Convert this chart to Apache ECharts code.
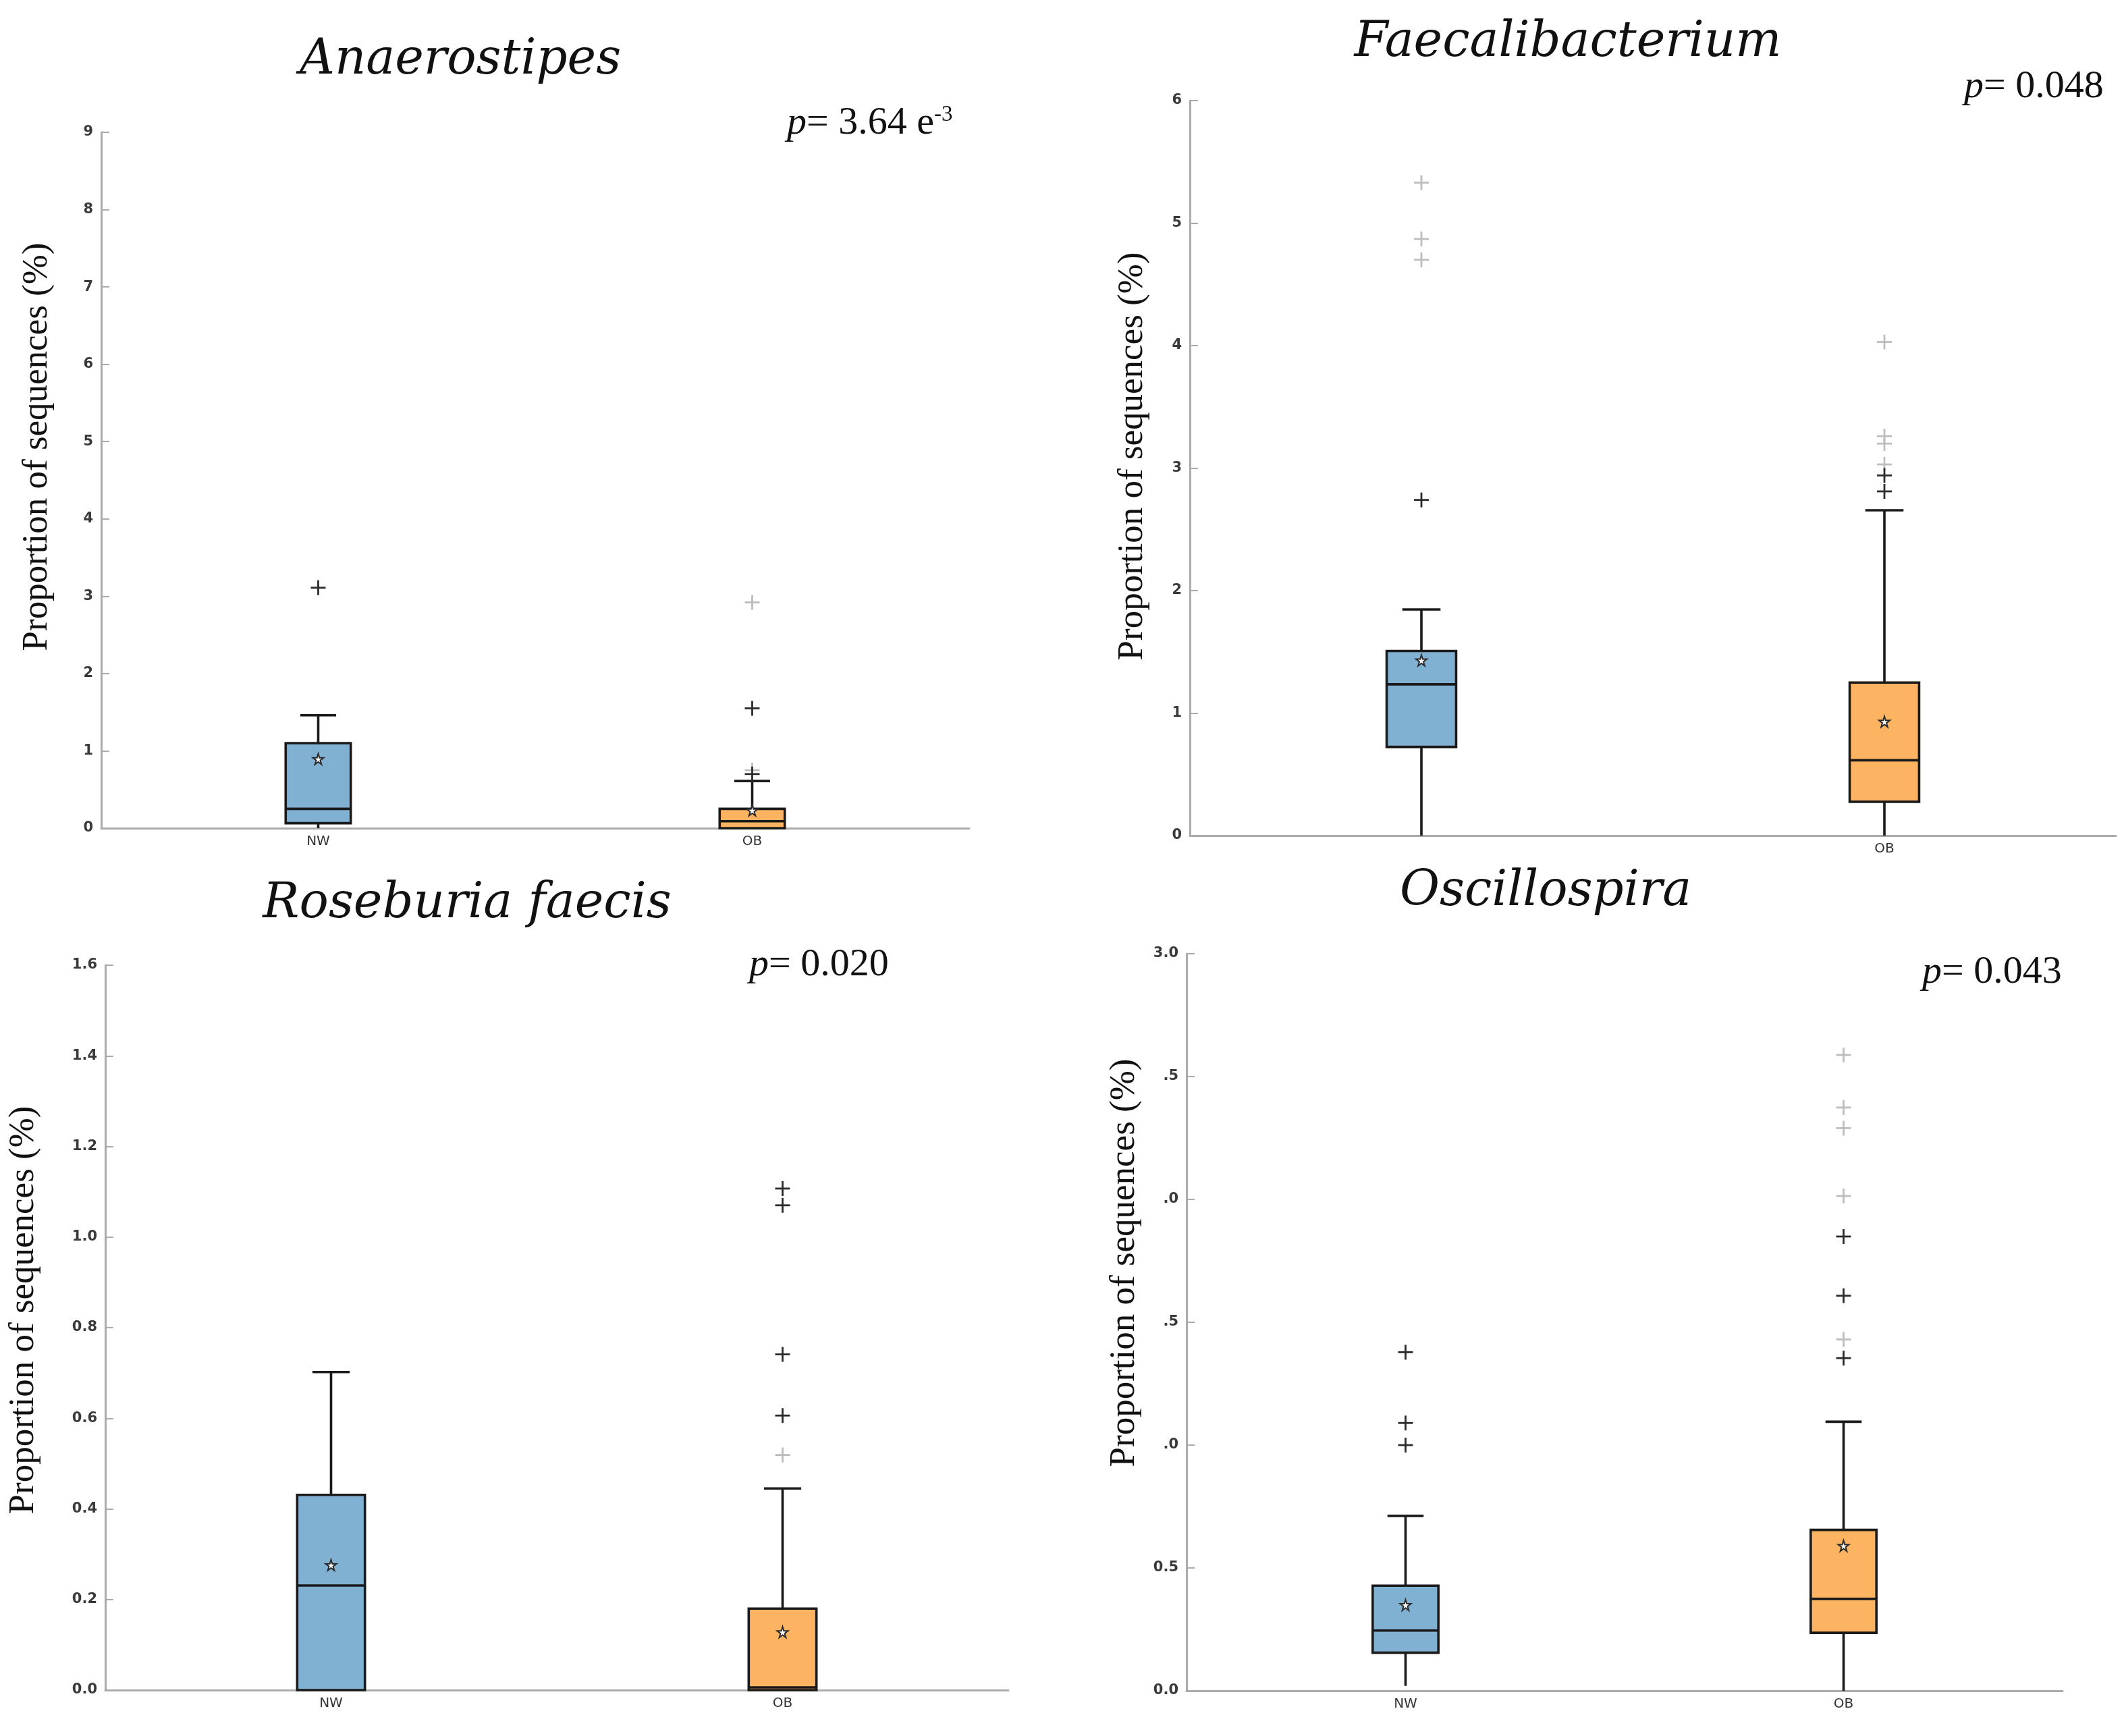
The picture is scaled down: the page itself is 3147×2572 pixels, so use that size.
<!doctype html>
<html>
<head>
    <meta charset="utf-8">
    <title>Boxplots</title>
    <script type="text/javascript" src="https://cdn.jsdelivr.net/npm/echarts@6/dist/echarts.min.js"></script>
    <style>
        html, body {margin: 0; padding: 0; background: #fff;}
        #container {width: 3147px; height: 2572px;}
    </style>
</head>
<body>
<div id="container"></div>
<script type="text/javascript">

    var groups = ['NW', 'OB'];

    /* [组, 下须, Q1, 中位数, Q3, 上须] */
    var anaeroBox = [[0, 0.0, 0.064, 0.25, 1.10, 1.46], [1, 0.0, 0.0, 0.09, 0.25, 0.61]];
    var anaeroMean = [[0, 0.895], [1, 0.23]];
    var anaeroOut = [[0, 3.11], [1, 1.55], [1, 0.70]];
    var anaeroOutFaint = [[1, 2.92], [1, 0.75]];
    var anaeroTicks = ['0', '1', '2', '3', '4', '5', '6', '7', '8', '9'];

    var faecaliBox = [[0, 0.0, 0.724, 1.235, 1.507, 1.846], [1, 0.0, 0.276, 0.615, 1.249, 2.656]];
    var faecaliMean = [[0, 1.43], [1, 0.93]];
    var faecaliOut = [[0, 2.74], [1, 2.94], [1, 2.81]];
    var faecaliOutFaint = [[0, 4.70], [0, 4.87], [0, 5.33], [1, 4.03], [1, 3.26], [1, 3.20], [1, 3.03]];
    var faecaliTicks = ['0', '1', '2', '3', '4', '5', '6'];

    var rosebBox = [[0, 0.0, 0.0, 0.231, 0.431, 0.702], [1, 0.0, 0.0, 0.006, 0.180, 0.445]];
    var rosebMean = [[0, 0.276], [1, 0.128]];
    var rosebOut = [[1, 1.107], [1, 1.070], [1, 0.741], [1, 0.606]];
    var rosebOutFaint = [[1, 0.519]];
    var rosebTicks = ['0.0', '0.2', '0.4', '0.6', '0.8', '1.0', '1.2', '1.4', '1.6'];

    var oscilloBox = [[0, 0.02, 0.155, 0.245, 0.428, 0.712], [1, 0.0, 0.236, 0.374, 0.655, 1.095]];
    var oscilloMean = [[0, 0.349], [1, 0.59]];
    var oscilloOut = [[0, 1.378], [0, 1.09], [0, 1.0], [1, 1.849], [1, 1.608], [1, 1.354]];
    var oscilloOutFaint = [[1, 2.588], [1, 2.374], [1, 2.29], [1, 2.014], [1, 1.43]];
    var oscilloTicks = ['0.0', '0.5', '.0', '.5', '.0', '.5', '3.0'];

    var boxColors = ['#80B1D3', '#FDB462'];
    var starPath = 'path://M50,0 L61,35 L98,35 L68,57 L79,91 L50,70 L21,91 L32,57 L2,35 L39,35 Z';

    var panels = [
        {box: anaeroBox, mean: anaeroMean, out: anaeroOut, faint: anaeroOutFaint, ticks: anaeroTicks, max: 9, step: 1,
            grid: {left: 150, top: 196, width: 1286, height: 1031}, hideNW: false},
        {box: faecaliBox, mean: faecaliMean, out: faecaliOut, faint: faecaliOutFaint, ticks: faecaliTicks, max: 6, step: 1,
            grid: {left: 1763, top: 149, width: 1372, height: 1089}, hideNW: true},
        {box: rosebBox, mean: rosebMean, out: rosebOut, faint: rosebOutFaint, ticks: rosebTicks, max: 1.6, step: 0.2,
            grid: {left: 156, top: 1430, width: 1338, height: 1074}, hideNW: false},
        {box: oscilloBox, mean: oscilloMean, out: oscilloOut, faint: oscilloOutFaint, ticks: oscilloTicks, max: 3, step: 0.5,
            grid: {left: 1758, top: 1413, width: 1298, height: 1092}, hideNW: false}
    ];

    function boxItem(params, api) {
        var c = api.value(0);
        var lo = api.coord([c, api.value(1)]);
        var q1 = api.coord([c, api.value(2)]);
        var md = api.coord([c, api.value(3)]);
        var q3 = api.coord([c, api.value(4)]);
        var hi = api.coord([c, api.value(5)]);
        var band = api.size([1, 0])[0];
        var w = band * 0.15, cap = w * 0.55, x = q1[0];
        var ln = {stroke: '#1a1a1a', lineWidth: 3.6};
        return {
            type: 'group', children: [
                {type: 'line', shape: {x1: x, y1: lo[1], x2: x, y2: q1[1]}, style: ln},
                {type: 'line', shape: {x1: x, y1: q3[1], x2: x, y2: hi[1]}, style: ln},
                {type: 'line', shape: {x1: x - cap / 2, y1: hi[1], x2: x + cap / 2, y2: hi[1]}, style: ln},
                {type: 'rect', shape: {x: x - w / 2, y: q3[1], width: w, height: q1[1] - q3[1]},
                    style: {fill: boxColors[c], stroke: '#1a1a1a', lineWidth: 3.6}},
                {type: 'line', shape: {x1: x - w / 2, y1: md[1], x2: x + w / 2, y2: md[1]}, style: ln}
            ]
        };
    }

    function plusItem(color) {
        return function (params, api) {
            var p = api.coord([api.value(0), api.value(1)]);
            var s = 11;
            var st = {stroke: color, lineWidth: 2.8};
            return {
                type: 'group', children: [
                    {type: 'line', shape: {x1: p[0] - s, y1: p[1], x2: p[0] + s, y2: p[1]}, style: st},
                    {type: 'line', shape: {x1: p[0], y1: p[1] - s, x2: p[0], y2: p[1] + s}, style: st}
                ]
            };
        };
    }

    var grids = [], xAxes = [], yAxes = [], series = [];
    panels.forEach(function (pn, i) {
        grids.push(pn.grid);
        xAxes.push({
            type: 'category', gridIndex: i, data: groups,
            axisLine: {lineStyle: {color: '#ababab', width: 3}},
            axisTick: {inside: true, alignWithLabel: true, length: 8, lineStyle: {color: '#c4c4c4', width: 2}},
            axisLabel: {
                margin: 10, color: '#333', fontSize: 20, fontFamily: 'DejaVu Sans',
                formatter: function (v) { return (pn.hideNW && v === 'NW') ? '' : v; }
            },
            splitLine: {show: false}
        });
        yAxes.push({
            type: 'value', gridIndex: i, min: 0, max: pn.max, interval: pn.step,
            axisLine: {show: true, lineStyle: {color: '#ababab', width: 3}},
            axisTick: {show: true, inside: true, length: 12, lineStyle: {color: '#ababab', width: 2}},
            axisLabel: {
                margin: 12, color: '#3a3a3a', fontSize: 21, fontWeight: 'bold', fontFamily: 'DejaVu Sans',
                formatter: function (v) { return pn.ticks[Math.round(v / pn.step)]; }
            },
            splitLine: {show: false}
        });
        series.push({
            type: 'custom', xAxisIndex: i, yAxisIndex: i, renderItem: boxItem,
            encode: {x: 0, y: [1, 2, 3, 4, 5]}, data: pn.box, z: 2
        });
        series.push({
            type: 'custom', xAxisIndex: i, yAxisIndex: i, renderItem: plusItem('#bdbdbd'),
            encode: {x: 0, y: 1}, data: pn.faint, z: 3
        });
        series.push({
            type: 'custom', xAxisIndex: i, yAxisIndex: i, renderItem: plusItem('#2b2b2b'),
            encode: {x: 0, y: 1}, data: pn.out, z: 4
        });
        series.push({
            type: 'scatter', xAxisIndex: i, yAxisIndex: i, data: pn.mean, z: 5,
            symbol: starPath, symbolSize: 16,
            itemStyle: {color: '#ffffff', borderColor: '#2b2b2b', borderWidth: 2, opacity: 1}
        });
    });

    var titleFont = {fill: '#111', fontFamily: 'DejaVu Serif', fontStyle: 'italic', fontSize: 72,
        align: 'center', verticalAlign: 'middle'};
    var nameFont = {fill: '#111', fontFamily: 'Liberation Serif', fontSize: 53,
        align: 'center', verticalAlign: 'middle', text: 'Proportion of sequences (%)'};
    var pRich = {
        i: {fontFamily: 'Liberation Serif', fontStyle: 'italic', fontSize: 58, fill: '#111', verticalAlign: 'bottom'},
        n: {fontFamily: 'Liberation Serif', fontSize: 58, fill: '#111', verticalAlign: 'bottom'},
        s: {fontFamily: 'Liberation Serif', fontSize: 33, fill: '#111', verticalAlign: 'top'}
    };

    function title(text, x, y) {
        return {type: 'text', x: x, y: y, style: Object.assign({text: text}, titleFont)};
    }
    function yName(x, y) {
        return {type: 'text', x: x, y: y, rotation: Math.PI / 2, style: Object.assign({}, nameFont)};
    }
    function pLabel(text, x, y) {
        return {type: 'text', x: x, y: y, style: {text: text, rich: pRich, align: 'left', verticalAlign: 'middle'}};
    }

    var chart = echarts.init(document.getElementById('container'));
    chart.setOption({
        animation: false,
        backgroundColor: '#ffffff',
        grid: grids,
        xAxis: xAxes,
        yAxis: yAxes,
        series: series,
        graphic: [
            title('Anaerostipes', 682, 90),
            title('Faecalibacterium', 2323, 64),
            title('Roseburia faecis', 692, 1340),
            title('Oscillospira', 2290, 1322),
            yName(55, 662),
            yName(1678, 676),
            yName(35, 1941),
            yName(1666, 1871),
            pLabel('{i|p}{n|= 3.64 e}{s|-3}', 1166, 183),
            pLabel('{i|p}{n|= 0.048}', 2910, 129),
            pLabel('{i|p}{n|= 0.020}', 1110, 1430),
            pLabel('{i|p}{n|= 0.043}', 2848, 1441)
        ]
    });
</script>
</body>
</html>
